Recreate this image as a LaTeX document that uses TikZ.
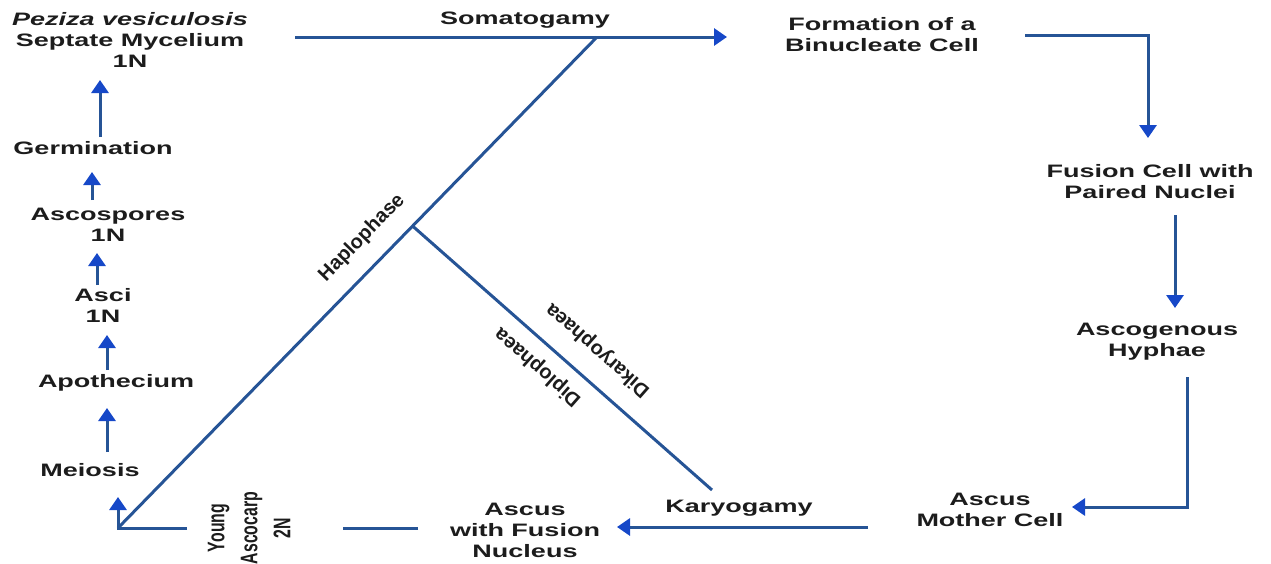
\documentclass[tikz,border=0pt]{standalone}
\usepackage{fontspec}
\setmainfont{Liberation Sans}
\newfontfamily\stretchfont{Liberation Sans}[FakeStretch=1.5]
\newfontfamily\squeezefont{Liberation Sans}[FakeStretch=0.66]
\usetikzlibrary{arrows.meta,calc}
\definecolor{lineblue}{RGB}{38,84,150}
\definecolor{headblue}{RGB}{22,72,200}
\definecolor{txt}{RGB}{28,28,28}
\tikzset{
  lbl/.style={font=\stretchfont\bfseries\fontsize{18}{21}\selectfont, text=txt, align=center, inner sep=2pt},
  rotlbl/.style={font=\squeezefont\bfseries\fontsize{24}{33}\selectfont, text=txt, align=center, inner sep=2pt, rotate=90},
  diaglbl/.style={font=\bfseries\fontsize{20}{24}\selectfont, text=txt, inner sep=1pt},
  conn/.style={draw=lineblue, line width=3pt},
  arr/.style={conn, -{Triangle[length=13pt,width=17pt,color=headblue]}},
}
\begin{document}
\begin{tikzpicture}[x=1pt,y=-1pt]
\useasboundingbox (0,0) rectangle (1271,563);

% left column
\node[lbl] (myc) at (130,40) {\textit{Peziza vesiculosis}\\Septate Mycelium\\1N};
\node[lbl] (germ) at (93,148) {Germination};
\node[lbl] (asco) at (108,225) {Ascospores\\1N};
\node[lbl] (asci) at (103,305) {Asci\\1N};
\node[lbl] (apo) at (116,383) {Apothecium};
\node[lbl] (mei) at (90,470) {Meiosis};
\node[rotlbl] (young) at (249,528) {Young\\Ascocarp\\2N};

% top and right
\node[lbl] (soma) at (525,20) {Somatogamy};
\node[lbl] (form) at (882,35) {Formation of a\\Binucleate Cell};
\node[lbl] (fus) at (1150,182) {Fusion Cell with\\Paired Nuclei};
\node[lbl] (ascog) at (1157,342) {Ascogenous\\Hyphae};
\node[lbl] (amc) at (990,510) {Ascus\\Mother Cell};
\node[lbl] (kary) at (739,508) {Karyogamy};
\node[lbl] (afn) at (525,530) {Ascus\\with Fusion\\Nucleus};

% phase lines
\coordinate (corner) at (118,528);
\coordinate (junc) at (597,37);
\coordinate (branch) at ($(corner)!0.615!(junc)$);
\coordinate (kend) at (712,490);

\draw[conn] (corner) -- (junc);
\draw[conn] (branch) -- (kend);
\node[diaglbl, rotate=45.7] (hap) at (362,238) {Haplophase};
\node[diaglbl, rotate=138.6] (dik) at (598,350) {Dikaryophaea};
\node[diaglbl, rotate=138.6] (dip) at (538,367) {Diplophaea};

% left arrows
\draw[arr] ($(germ)+(7,-11)$) -- ($(myc)+(-30,40)$);
\draw[arr] ($(asco)+(-16,-25)$) -- ($(germ)+(-1,24)$);
\draw[arr] ($(asci)+(-6,-20)$) -- ($(asco)+(-11,28)$);
\draw[arr] ($(apo)+(-9,-13)$) -- ($(asci)+(4,30)$);
\draw[arr] ($(mei)+(17,-18)$) -- ($(apo)+(-9,25)$);
\draw[arr] ($(young)+(-62,0)$) -- (corner) -- ($(mei)+(28,27)$);

% top arrow
\draw[arr] ($(myc)+(165,-3)$) -- ($(form)+(-155,2)$);

% right side
\draw[arr] ($(form)+(143,0)$) -| ($(fus)+(-2,-44)$);
\draw[arr] ($(fus)+(25,33)$) -- ($(ascog)+(18,-34)$);
\draw[arr] ($(ascog)+(30,35)$) |- ($(amc)+(82,-3)$);
\draw[arr] ($(amc)+(-122,17)$) -- ($(afn)+(92,-3)$);
\draw[conn] ($(afn)+(-107,-2)$) -- ($(young)+(94,0)$);
\end{tikzpicture}
\end{document}
